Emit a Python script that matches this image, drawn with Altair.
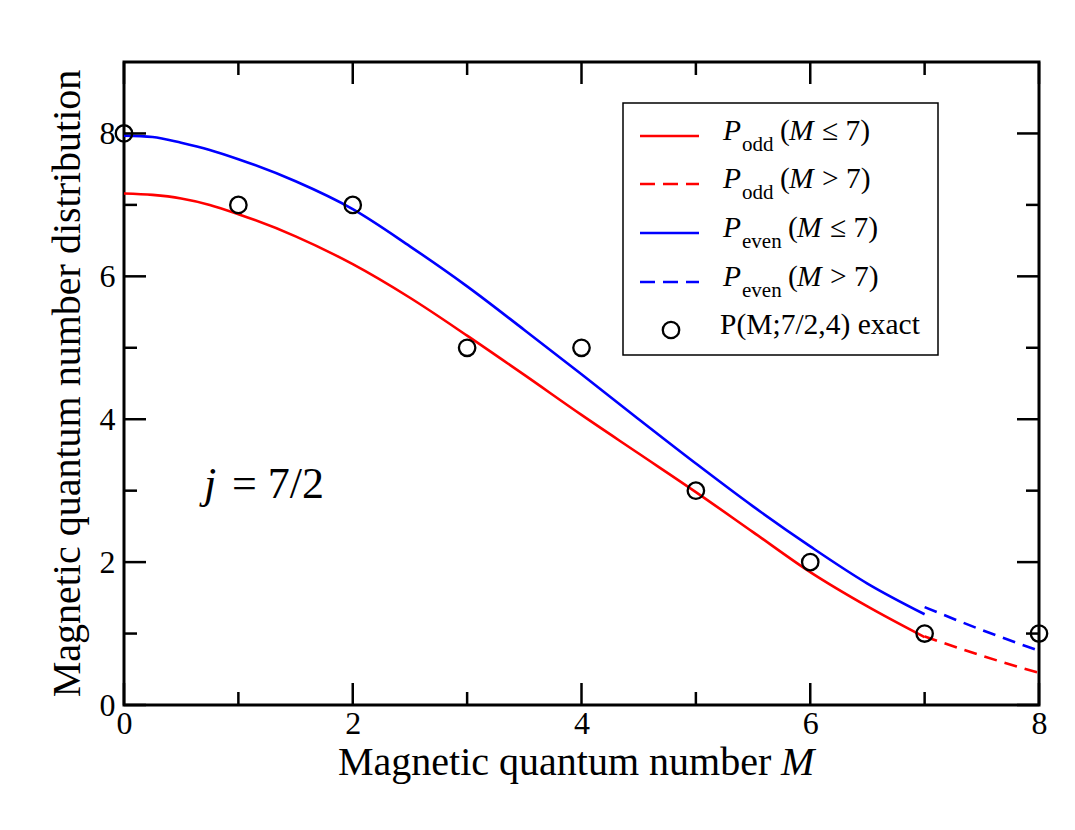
import altair as alt
import pandas as pd

FONT = "Liberation Serif"

# ---- data ----
M_fit = [0, 0.25, 0.5, 0.75, 1, 1.5, 2, 2.5, 3, 3.5, 4, 4.5, 5, 5.5, 6, 6.5, 7]
p_odd = [7.16, 7.14, 7.09, 7.00, 6.87, 6.56, 6.17, 5.70, 5.17, 4.62, 4.06, 3.52, 2.98, 2.42, 1.86, 1.38, 0.95]
p_even = [7.97, 7.95, 7.87, 7.77, 7.64, 7.33, 6.94, 6.42, 5.86, 5.25, 4.63, 4.00, 3.38, 2.78, 2.22, 1.70, 1.27]
M_ext = [7, 7.5, 8]
p_odd_ext = [0.96, 0.69, 0.45]
p_even_ext = [1.37, 1.05, 0.76]
M_exact = [0, 1, 2, 3, 4, 5, 6, 7, 8]
p_exact = [8, 7, 7, 5, 5, 3, 2, 1, 1]

x_major = [0, 2, 4, 6, 8]
x_minor = [1, 3, 5, 7]
y_major = [0, 2, 4, 6, 8]
y_minor = [1, 3, 5, 7]

legend_sub = ["odd", "odd", "even", "even"]
legend_rel = ["\u2264 7)", "> 7)", "\u2264 7)", "> 7)"]
legend_exact = "P(M;7/2,4) exact"

W, H = 915, 643
xs = alt.Scale(domain=[0, 8], nice=False, zero=False)
ys = alt.Scale(domain=[0, 9], nice=False, zero=False)
xaxis = alt.Axis(values=x_major, title=None, ticks=False, domain=False, grid=False, labelFlush=False,
                 labelFont=FONT, labelFontSize=32, labelColor="black", labelPadding=3)
yaxis = alt.Axis(values=y_major, title=None, ticks=False, domain=False, grid=False, labelFlush=False,
                 labelFont=FONT, labelFontSize=32, labelColor="black", labelPadding=9)


def curve(M, P, color, dash=None):
    mk = dict(color=color, strokeWidth=2.6, interpolate="monotone", clip=False)
    if dash:
        mk["strokeDash"] = dash
    return alt.Chart(pd.DataFrame({"M": M, "P": P})).mark_line(**mk).encode(
        x=alt.X("M:Q", scale=xs, axis=xaxis),
        y=alt.Y("P:Q", scale=ys, axis=yaxis),
    )


def xticks(vals, length):
    d = pd.DataFrame({"v": vals})
    base = alt.Chart(d).mark_rule(color="black", strokeWidth=2.5)
    bot = base.encode(x=alt.X("v:Q", scale=xs, axis=xaxis), y=alt.value(H), y2=alt.value(H - length))
    top = base.encode(x=alt.X("v:Q", scale=xs, axis=xaxis), y=alt.value(0), y2=alt.value(length))
    return [bot, top]


def yticks(vals, length):
    d = pd.DataFrame({"v": vals})
    base = alt.Chart(d).mark_rule(color="black", strokeWidth=2.5)
    left = base.encode(y=alt.Y("v:Q", scale=ys, axis=yaxis), x=alt.value(0), x2=alt.value(length))
    right = base.encode(y=alt.Y("v:Q", scale=ys, axis=yaxis), x=alt.value(W), x2=alt.value(W - length))
    return [left, right]


def txt(s, x, y, size, italic=False, align="left", angle=0):
    return alt.Chart(pd.DataFrame({"t": [s]})).mark_text(
        font=FONT, fontSize=size, fontStyle="italic" if italic else "normal",
        align=align, baseline="alphabetic", color="black", angle=angle,
    ).encode(text="t:N", x=alt.value(x), y=alt.value(y))


layers = []
layers.append(curve(M_fit, p_odd, "#ff0000"))
layers.append(curve(M_fit, p_even, "#0000ff"))
layers.append(curve(M_ext, p_odd_ext, "#ff0000", [13, 8]))
layers.append(curve(M_ext, p_even_ext, "#0000ff", [13, 8]))

layers.append(
    alt.Chart(pd.DataFrame({"M": M_exact, "P": p_exact})).mark_point(
        shape="circle", filled=False, size=270, strokeWidth=2.3, color="black", opacity=1, clip=False
    ).encode(x=alt.X("M:Q", scale=xs, axis=xaxis), y=alt.Y("P:Q", scale=ys, axis=yaxis))
)

layers += xticks(x_major, 22) + xticks(x_minor, 13)
layers += yticks(y_major, 22) + yticks(y_minor, 13)

# legend box
layers.append(
    alt.Chart(pd.DataFrame({"a": [0]})).mark_rect(fill="white", stroke="black", strokeWidth=1.5).encode(
        x=alt.value(499), x2=alt.value(814), y=alt.value(41), y2=alt.value(293)
    )
)
row_y = [74, 122, 171, 220, 268]
colors = ["#ff0000", "#ff0000", "#0000ff", "#0000ff"]
dashed = [False, True, False, True]
LF = 29.5
for i in range(4):
    ry = row_y[i]
    mk = dict(color=colors[i], strokeWidth=2.6)
    if dashed[i]:
        mk["strokeDash"] = [15, 8]
    layers.append(
        alt.Chart(pd.DataFrame({"a": [0]})).mark_rule(**mk).encode(
            x=alt.value(516), x2=alt.value(575), y=alt.value(ry)
        )
    )
    layers.append(txt("P", 599, ry + 4, LF, italic=True))
    layers.append(txt(legend_sub[i], 618, ry + 15, 21))
    px = 656 if legend_sub[i] == "odd" else 664
    layers.append(txt("(", px, ry + 4, LF))
    layers.append(txt("M", px + 9, ry + 4, LF, italic=True))
    layers.append(txt(legend_rel[i], px + 42, ry + 4, LF))

layers.append(
    alt.Chart(pd.DataFrame({"a": [0]})).mark_point(
        shape="circle", filled=False, size=270, strokeWidth=2.3, color="black", opacity=1
    ).encode(x=alt.value(547), y=alt.value(row_y[4]))
)
layers.append(txt(legend_exact, 596, row_y[4] + 4, LF))

# annotation j = 7/2
layers.append(txt("j", 80, 436, 44, italic=True))
layers.append(txt("= 7/2", 108, 436, 44))

# axis titles
layers.append(txt("Magnetic quantum number", 214, 713, 40))
layers.append(txt("M", 657, 713, 40, italic=True))
layers.append(txt("Magnetic quantum number distribution", -44, H / 2, 40, align="center", angle=270))

chart = alt.layer(*layers).properties(
    width=W, height=H,
    autosize=alt.AutoSizeParams(type="none"),
    padding={"left": 116, "top": 54, "right": 20, "bottom": 80},
    background="white",
).configure_view(stroke="black", strokeWidth=3)

chart.save("out.html", embed_options={"renderer": "svg", "actions": False})
